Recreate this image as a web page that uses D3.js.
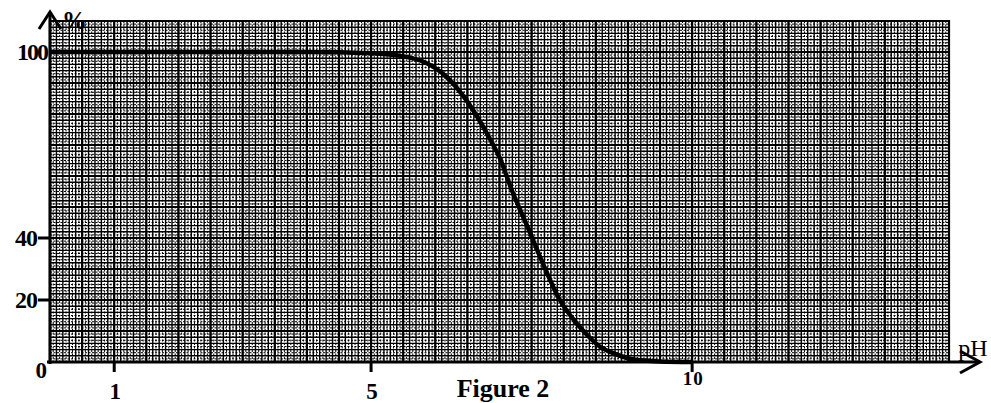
<!DOCTYPE html>
<html>
    <head>
        <script src="https://cdnjs.cloudflare.com/ajax/libs/d3/7.8.5/d3.min.js"></script>
        <title>Figure 2</title>
        <style>
            html, body {
                margin: 0;
                background: #fff;
            }
            svg {
                display: block;
            }
            text {
                font-family: "Liberation Serif", "Times New Roman", serif;
            }
        </style>
    </head>
    <body>
        <svg width="991" height="403"></svg>
        <script>
            // curve
            var phValues      = [0, 1, 2, 3, 4, 5, 5.5, 5.8, 6.2, 6.5, 6.85, 7.0, 7.2, 7.47, 7.63, 7.94, 8.2, 8.4, 8.56, 8.8, 9.07, 9.5, 10];
            var percentValues = [100, 100, 100, 100, 100, 99.6, 98.6, 97, 91.5, 84, 72, 66, 55, 42, 34, 20, 12.5, 8, 5, 2.6, 0.9, 0.2, 0];

            var yTickValues = [40, 20];
            var xTickValues = [1, 5, 10];

            var svg = d3.select("svg");

            var x = d3.scaleLinear().domain([0, 14]).range([50, 949]);
            var y = d3.scaleLinear().domain([0, 100]).range([362, 52]);

            // graph paper
            var paper = svg.append("g");
            var fine = paper.append("g").attr("stroke", "#000").attr("stroke-width", 1).attr("stroke-dasharray", "2,1.5");
            fine.selectAll("line.v").data(d3.range(0.05, 14, 0.1)).enter().append("line")
                .attr("x1", function(d){ return x(d); }).attr("x2", function(d){ return x(d); })
                .attr("y1", y(110)).attr("y2", y(0));
            fine.selectAll("line.h").data(d3.range(1, 110, 2)).enter().append("line")
                .attr("y1", function(d){ return y(d); }).attr("y2", function(d){ return y(d); })
                .attr("x1", x(0)).attr("x2", x(14));

            var minor = paper.append("g").attr("stroke", "#000").attr("stroke-width", 1.4);
            minor.selectAll("line.v").data(d3.range(0, 14.001, 0.1)).enter().append("line")
                .attr("x1", function(d){ return x(d); }).attr("x2", function(d){ return x(d); })
                .attr("y1", y(110)).attr("y2", y(0));
            minor.selectAll("line.h").data(d3.range(0, 110.001, 2)).enter().append("line")
                .attr("y1", function(d){ return y(d); }).attr("y2", function(d){ return y(d); })
                .attr("x1", x(0)).attr("x2", x(14));

            var major = paper.append("g").attr("stroke", "#000").attr("stroke-width", 2.2);
            major.selectAll("line.v").data(d3.range(0, 14.001, 0.5)).enter().append("line")
                .attr("x1", function(d){ return x(d); }).attr("x2", function(d){ return x(d); })
                .attr("y1", y(110) - 1).attr("y2", y(0));
            major.selectAll("line.h").data(d3.range(0, 110.001, 10)).enter().append("line")
                .attr("y1", function(d){ return y(d); }).attr("y2", function(d){ return y(d); })
                .attr("x1", x(0)).attr("x2", x(14));

            // curve
            var line = d3.line()
                .x(function(d, i){ return x(phValues[i]); })
                .y(function(d, i){ return y(percentValues[i]); })
                .curve(d3.curveMonotoneX);
            svg.append("path")
                .attr("d", line(phValues))
                .attr("fill", "none")
                .attr("stroke", "#000")
                .attr("stroke-width", 4.5);

            // axes with open arrow heads
            var ax = svg.append("g").attr("stroke", "#000").attr("stroke-width", 3).attr("fill", "none");
            ax.append("line").attr("x1", 47).attr("x2", 980).attr("y1", y(0)).attr("y2", y(0));
            ax.append("line").attr("x1", x(0)).attr("x2", x(0)).attr("y1", y(0) + 2).attr("y2", 12);
            ax.append("path").attr("d", "M960," + (y(0) - 11) + "L980," + y(0) + "L960," + (y(0) + 11));
            ax.append("path").attr("d", "M39,29L" + x(0) + ",12L61,29");

            // ticks
            var ticks = svg.append("g").attr("stroke", "#000").attr("stroke-width", 3);
            ticks.selectAll("line.y").data(yTickValues).enter().append("line")
                .attr("x1", 38).attr("x2", x(0))
                .attr("y1", function(d){ return y(d); }).attr("y2", function(d){ return y(d); });
            ticks.selectAll("line.x").data(xTickValues).enter().append("line")
                .attr("x1", function(d){ return x(d); }).attr("x2", function(d){ return x(d); })
                .attr("y1", y(0)).attr("y2", y(0) + 10);

            // labels
            var labels = svg.append("g").attr("font-weight", "bold").attr("fill", "#000");
            labels.append("text").attr("x", 47).attr("y", y(100) + 8).attr("text-anchor", "end")
                .attr("font-size", 24).attr("letter-spacing", -2).text("100");
            labels.selectAll("text.y").data(yTickValues).enter().append("text")
                .attr("x", 37).attr("y", function(d){ return y(d) + 8; }).attr("text-anchor", "end")
                .attr("font-size", 24).attr("letter-spacing", -1).text(function(d){ return d; });
            labels.append("text").attr("x", 47).attr("y", y(0) + 16).attr("text-anchor", "end")
                .attr("font-size", 23).text("0");
            labels.selectAll("text.x").data(xTickValues).enter().append("text")
                .attr("x", function(d){ return x(d) + 1; })
                .attr("y", function(d){ return d === 10 ? 385 : 399; })
                .attr("text-anchor", "middle")
                .attr("font-size", function(d){ return d === 10 ? 19 : 23; })
                .attr("letter-spacing", function(d){ return d === 10 ? 1 : 0; })
                .text(function(d){ return d; });
            labels.append("text").attr("x", 62).attr("y", 29).attr("font-size", 25).text("%");
            labels.append("text").attr("x", 503).attr("y", 397).attr("text-anchor", "middle")
                .attr("font-size", 26).text("Figure 2");
            svg.append("text").attr("x", 973).attr("y", 356).attr("text-anchor", "middle")
                .attr("font-size", 24).text("pH");
        </script>
    </body>
</html>
